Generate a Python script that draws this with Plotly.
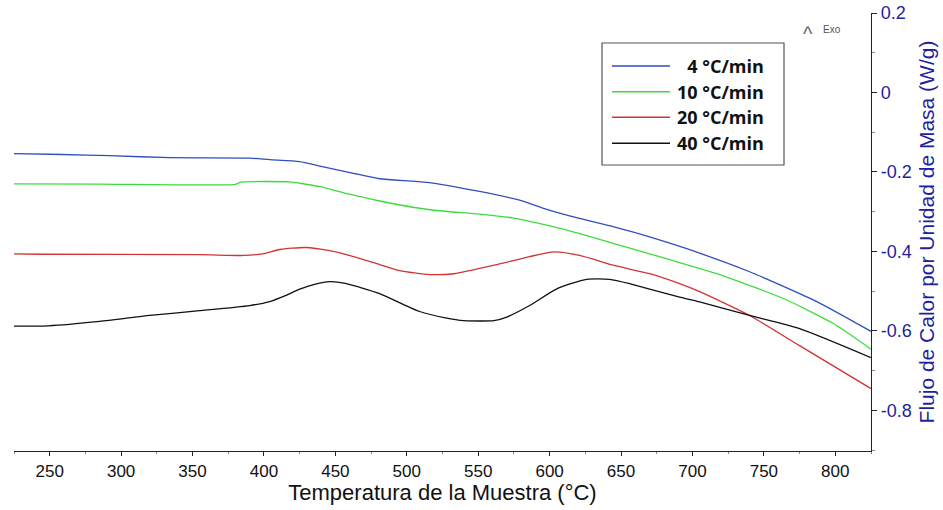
import plotly.graph_objects as go

# DSC heat-flow curves at four heating rates
rate_labels = ["\u20074 °C/min", "10 °C/min", "20 °C/min", "40 °C/min"]
line_colors = ["#2f4fbf", "#3ddc3d", "#d03434", "#111111"]

t_4 = [225, 259, 292, 334, 390, 404, 425, 440, 461, 481, 514, 551, 579, 598, 621, 645, 670, 696, 740, 787, 825]
q_4 = [-0.154, -0.156, -0.159, -0.164, -0.165, -0.169, -0.174, -0.186, -0.202, -0.217, -0.226, -0.249,
       -0.271, -0.294, -0.317, -0.338, -0.363, -0.393, -0.451, -0.526, -0.601]

t_10 = [225, 285, 380, 384, 418, 426, 440, 460, 481, 516, 551, 575, 598, 621, 645, 670, 691, 717, 764, 799, 825]
q_10 = [-0.230, -0.2305, -0.231, -0.2255, -0.225, -0.229, -0.2375, -0.256, -0.273, -0.295, -0.306, -0.316,
        -0.334, -0.355, -0.380, -0.406, -0.428, -0.456, -0.519, -0.582, -0.646]

t_20 = [225, 243, 355, 386, 399, 411, 429, 446, 464, 481, 495, 516, 533, 563, 586, 603, 621, 645, 670,
        691, 705, 740, 775, 825]
q_20 = [-0.406, -0.407, -0.408, -0.410, -0.406, -0.395, -0.390, -0.398, -0.414, -0.433, -0.448, -0.458,
        -0.456, -0.433, -0.413, -0.401, -0.410, -0.435, -0.456, -0.481, -0.501, -0.561, -0.637, -0.745]

t_40 = [225, 249, 285, 320, 355, 390, 404, 415, 425, 436, 446, 457, 467, 481, 509, 527, 540, 561, 570,
        586, 605, 626, 642, 656, 670, 691, 705, 740, 775, 825]
q_40 = [-0.588, -0.587, -0.576, -0.561, -0.549, -0.536, -0.526, -0.511, -0.495, -0.482, -0.476, -0.480,
        -0.490, -0.506, -0.551, -0.567, -0.574, -0.574, -0.565, -0.536, -0.494, -0.470, -0.470, -0.481,
        -0.495, -0.515, -0.527, -0.561, -0.594, -0.667]

series_t = [t_4, t_10, t_20, t_40]
series_q = [q_4, q_10, q_20, q_40]

# heat-flow tick values, labelled with a plain hyphen minus
q_ticks = [0.2, 0.0, -0.2, -0.4, -0.6, -0.8]
q_tick_text = ["0.2", "0", "-0.2", "-0.4", "-0.6", "-0.8"]

axis_blue = "#1f1f9f"
W, H = 943, 510
ML, MR, MT, MB = 14, 72, 13, 59
PW, PH = W - ML - MR, H - MT - MB


def px(x):
    return (x - ML) / PW


def py(y):
    return (H - MB - y) / PH


fig = go.Figure()
for t, q, name, col in zip(series_t, series_q, rate_labels, line_colors):
    fig.add_trace(go.Scatter(
        x=t, y=q, mode="lines", name=name, showlegend=False,
        line=dict(color=col, width=1.3, shape="spline", smoothing=0.6),
    ))

# Boxed key, drawn in paper space
shapes = [dict(type="rect", xref="paper", yref="paper",
               x0=px(602), x1=px(784), y0=py(165), y1=py(43),
               line=dict(color="#555555", width=1.2), fillcolor="white", layer="above")]
annotations = []
key_rows = [66, 91.7, 117.3, 143.3]
for row, name, col in zip(key_rows, rate_labels, line_colors):
    shapes.append(dict(type="line", xref="paper", yref="paper",
                       x0=px(612), x1=px(670), y0=py(row), y1=py(row),
                       line=dict(color=col, width=1.5), layer="above"))
    annotations.append(dict(xref="paper", yref="paper", x=px(766), y=py(row),
                            xanchor="right", yanchor="middle", showarrow=False,
                            text="<b>%s</b>" % name,
                            font=dict(family="Open Sans", size=18, color="#111111")))

# exotherm direction marker
annotations.append(dict(xref="paper", yref="paper", x=px(808), y=py(34),
                        xanchor="center", yanchor="middle", showarrow=False, text="^",
                        font=dict(family="Liberation Sans", size=20, color="#666666")))
annotations.append(dict(xref="paper", yref="paper", x=px(821), y=py(29),
                        xanchor="left", yanchor="middle", showarrow=False, text="Exo",
                        font=dict(family="Liberation Sans", size=10, color="#555555")))

fig.update_layout(
    width=W, height=H,
    margin=dict(l=ML, r=MR, t=MT, b=MB),
    paper_bgcolor="white", plot_bgcolor="white",
    shapes=shapes, annotations=annotations,
    xaxis=dict(
        range=[225, 825], tick0=250, dtick=50, automargin=False,
        showgrid=False, zeroline=False,
        showline=True, linecolor="#222222", linewidth=1.2,
        ticks="outside", ticklen=4, tickcolor="#222222",
        minor=dict(dtick=25, ticks="outside", ticklen=2, tickcolor="#888888"),
        tickfont=dict(family="Liberation Sans", size=17, color="#111111"),
        title=dict(text="Temperatura de la Muestra (°C)", standoff=4,
                   font=dict(family="Liberation Sans", size=22, color="#111111")),
    ),
    yaxis=dict(
        side="right", range=[-0.902, 0.2], automargin=False,
        tickmode="array", tickvals=q_ticks, ticktext=q_tick_text,
        showgrid=False, zeroline=False,
        showline=True, linecolor="#222222", linewidth=1.2,
        ticks="outside", ticklen=5, tickcolor="#222222",
        minor=dict(dtick=0.1, ticks="outside", ticklen=3, tickcolor="#888888"),
        tickfont=dict(family="Liberation Sans", size=18, color=axis_blue),
        title=dict(text="Flujo de Calor por Unidad de Masa (W/g)", standoff=8,
                   font=dict(family="Liberation Sans", size=21, color=axis_blue)),
    ),
)

fig.write_html("out.html")
